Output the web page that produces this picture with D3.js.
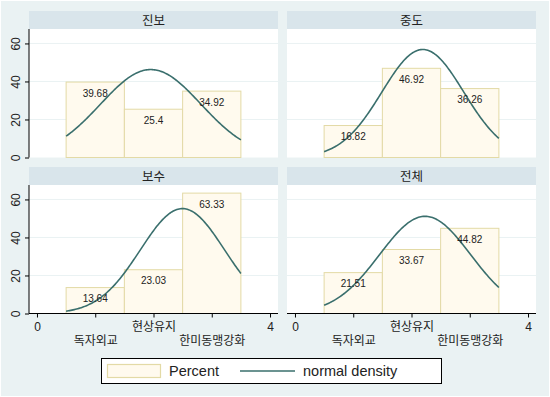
<!DOCTYPE html>
<html>
<head>
<meta charset="utf-8">
<script src="https://cdn.jsdelivr.net/npm/d3@7"></script>
<style>
  html, body { margin: 0; padding: 0; background: #eaf2f3; }
  svg { display: block; font-family: "Liberation Sans", Arial, "Noto Sans CJK KR", sans-serif; }
</style>
</head>
<body>
<div id="chart"></div>
<script>
// Données
const groups = ["진보", "중도", "보수", "전체"];
const categories = ["독자외교", "현상유지", "한미동맹강화"];
const catPos = [1, 2, 3];
const pctJinbo = [39.68, 25.4, 34.92];
const pctJungdo = [16.82, 46.92, 36.26];
const pctBosu = [13.64, 23.03, 63.33];
const pctTotal = [21.51, 33.67, 44.82];
const yTicks = [0, 20, 40, 60];
const xTicks = [0, 1, 2, 3, 4];
const xTickLabels = ["0", "독자외교", "현상유지", "한미동맹강화", "4"];

const series = [pctJinbo, pctJungdo, pctBosu, pctTotal];

const width = 550;
const height = 397;

const svg = d3
  .select("#chart")
  .append("svg")
  .attr("width", width)
  .attr("height", height);

svg.append("rect")
  .attr("x", 0.5).attr("y", 0.5)
  .attr("width", width - 1).attr("height", height - 1)
  .style("fill", "#eaf2f3")
  .style("stroke", "#ffffff");

// Disposition des panneaux
const colX = [29, 287];
const rowY = [11, 167];
const panelW = 249;
const stripH = 18;
const plotH = 128.5;

const barColor = "#fffaee";
const barStroke = "#e3daa6";
const lineColor = "#3a6f6d";

groups.forEach((name, i) => {
  const col = i % 2;
  const row = Math.floor(i / 2);
  const left = colX[col];
  const top = rowY[row];
  const plotTop = top + stripH;
  const plotBottom = plotTop + plotH;
  const data = series[i];

  const x = d3.scaleLinear().domain([-0.137, 4.137]).range([left, left + panelW]);
  const y = d3.scaleLinear().domain([0, 67.6]).range([plotBottom, plotTop]);

  const g = svg.append("g");

  // Bandeau de titre
  g.append("rect")
    .attr("x", left).attr("y", top)
    .attr("width", panelW).attr("height", stripH)
    .style("fill", "#d9e5eb");
  g.append("text")
    .attr("x", left + panelW / 2).attr("y", top + stripH / 2 + 0.5)
    .attr("text-anchor", "middle")
    .attr("dominant-baseline", "central")
    .style("font-size", "12.5px")
    .style("fill", "#222")
    .text(name);

  // Zone de tracé
  g.append("rect")
    .attr("x", left).attr("y", plotTop)
    .attr("width", panelW).attr("height", plotH)
    .style("fill", "#ffffff");

  // Grille
  g.selectAll(".grid")
    .data(yTicks.slice(1))
    .enter()
    .append("line")
    .attr("x1", left).attr("x2", left + panelW)
    .attr("y1", (d) => y(d)).attr("y2", (d) => y(d))
    .style("stroke", "#eaf2f3")
    .style("stroke-width", 1);

  // Barres
  const bars = data.map((v, k) => ({ pos: catPos[k], value: v }));
  g.selectAll(".bar")
    .data(bars)
    .enter()
    .append("rect")
    .attr("x", (d) => x(d.pos - 0.5))
    .attr("y", (d) => y(d.value))
    .attr("width", (d) => x(d.pos + 0.5) - x(d.pos - 0.5))
    .attr("height", (d) => y(0) - y(d.value))
    .style("fill", barColor)
    .style("stroke", barStroke)
    .style("stroke-width", 1);

  // Densité normale (moyenne et écart-type tirés des pourcentages)
  const total = d3.sum(data);
  const mean = d3.sum(data, (v, k) => v * catPos[k]) / total;
  const variance = d3.sum(data, (v, k) => v * (catPos[k] - mean) ** 2) / total;
  const sd = Math.sqrt(variance);
  const curve = d3.range(0.5, 3.5001, 0.02).map((t) => [
    t,
    (100 / (sd * Math.sqrt(2 * Math.PI))) * Math.exp(-((t - mean) ** 2) / (2 * variance)),
  ]);
  g.append("path")
    .datum(curve)
    .attr("d", d3.line().x((d) => x(d[0])).y((d) => y(d[1])))
    .style("fill", "none")
    .style("stroke", lineColor)
    .style("stroke-width", 1.6);

  // Étiquettes des barres
  g.selectAll(".lbl")
    .data(bars)
    .enter()
    .append("text")
    .attr("x", (d) => x(d.pos))
    .attr("y", (d) => y(d.value) + 14.5)
    .attr("text-anchor", "middle")
    .style("font-size", "10px")
    .style("fill", "#222")
    .text((d) => d.value);

  // Axe Y (panneaux de gauche)
  if (col === 0) {
    const yAxis = d3.axisLeft(y).tickValues(yTicks).tickSize(4).tickFormat(d3.format("d"));
    const ya = g.append("g").attr("transform", `translate(${left},0)`).call(yAxis);
    ya.select(".domain").attr("d", `M0,${plotTop}V${plotBottom}`).style("stroke", "#000");
    ya.selectAll(".tick line").style("stroke", "#000");
    ya.selectAll(".tick text")
      .attr("transform", "rotate(-90)")
      .attr("x", 0).attr("y", -9)
      .attr("dy", 0)
      .attr("text-anchor", "middle")
      .style("font-size", "12px")
      .style("font-family", "Liberation Sans, Arial, sans-serif")
      .style("fill", "#222");
  }

  // Axe X (panneaux du bas)
  if (row === 1) {
    const xAxis = d3.axisBottom(x).tickValues(xTicks).tickSize(4).tickFormat((d, k) => xTickLabels[k]);
    const xa = g.append("g").attr("transform", `translate(0,${plotBottom})`).call(xAxis);
    xa.select(".domain").attr("d", `M${left},0H${left + panelW}`).style("stroke", "#000");
    xa.selectAll(".tick line").style("stroke", "#000");
    xa.selectAll(".tick text")
      .attr("y", (d) => (d === 1 || d === 3 ? 23 : 9))
      .attr("dy", "0.71em")
      .style("font-size", "12px")
      .style("font-family", "Liberation Sans, Arial, Noto Sans CJK KR, sans-serif")
      .style("fill", "#222");
  }
});

// Légende
const legend = svg.append("g");
legend.append("rect")
  .attr("x", 101.5).attr("y", 358.5)
  .attr("width", 340).attr("height", 25)
  .style("fill", "#ffffff")
  .style("stroke", "#000")
  .style("stroke-width", 1);
legend.append("rect")
  .attr("x", 107.5).attr("y", 364.5)
  .attr("width", 53).attr("height", 13)
  .style("fill", barColor)
  .style("stroke", barStroke)
  .style("stroke-width", 1.2);
legend.append("text")
  .attr("x", 169).attr("y", 376)
  .style("font-size", "14.5px")
  .style("fill", "#222")
  .text("Percent");
legend.append("line")
  .attr("x1", 240).attr("x2", 295)
  .attr("y1", 371).attr("y2", 371)
  .style("stroke", lineColor)
  .style("stroke-width", 1.6);
legend.append("text")
  .attr("x", 303).attr("y", 376)
  .style("font-size", "14.5px")
  .style("fill", "#222")
  .text("normal density");
</script>
</body>
</html>
